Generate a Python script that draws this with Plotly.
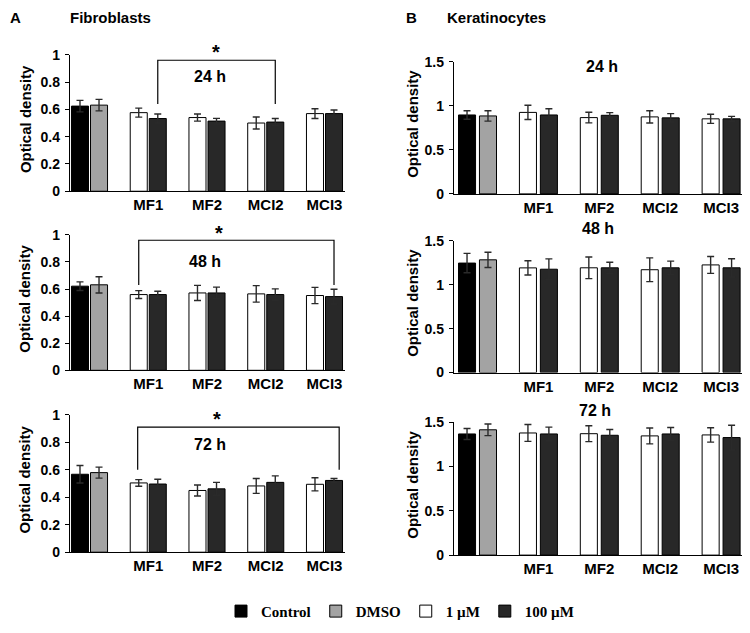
import plotly.graph_objects as go

W, H = 750, 633

categories = ["", "MF1", "MF2", "MCI2", "MCI3"]
timepoints = ["24 h", "48 h", "72 h"]
legend_names = ["Control", "DMSO", "1 \u00b5M", "100 \u00b5M"]

# Fibroblasts (panel A) -- one value per time point for Control / DMSO
fib_ctrl = [0.624, 0.621, 0.567]
fib_ctrl_err = [0.042, 0.032, 0.064]
fib_dmso = [0.631, 0.631, 0.579]
fib_dmso_err = [0.042, 0.060, 0.040]
# 1 uM and 100 uM for MF1, MF2, MCI2, MCI3
fib_1uM_24 = [0.576, 0.540, 0.500, 0.569]
fib_1uM_24_err = [0.033, 0.026, 0.044, 0.036]
fib_100uM_24 = [0.533, 0.514, 0.507, 0.569]
fib_100uM_24_err = [0.033, 0.020, 0.026, 0.026]
fib_1uM_48 = [0.559, 0.571, 0.564, 0.552]
fib_1uM_48_err = [0.029, 0.056, 0.061, 0.060]
fib_100uM_48 = [0.559, 0.571, 0.559, 0.544]
fib_100uM_48_err = [0.024, 0.043, 0.042, 0.054]
fib_1uM_72 = [0.504, 0.449, 0.482, 0.494]
fib_1uM_72_err = [0.024, 0.040, 0.054, 0.048]
fib_100uM_72 = [0.496, 0.461, 0.508, 0.522]
fib_100uM_72_err = [0.035, 0.047, 0.047, 0.014]

# Keratinocytes (panel B)
ker_ctrl = [0.895, 1.248, 1.368]
ker_ctrl_err = [0.048, 0.111, 0.062]
ker_dmso = [0.884, 1.285, 1.415]
ker_dmso_err = [0.059, 0.087, 0.066]
ker_1uM_24 = [0.924, 0.865, 0.873, 0.851]
ker_1uM_24_err = [0.081, 0.060, 0.070, 0.052]
ker_100uM_24 = [0.895, 0.891, 0.862, 0.851]
ker_100uM_24_err = [0.070, 0.030, 0.048, 0.028]
ker_1uM_48 = [1.193, 1.194, 1.172, 1.227]
ker_1uM_48_err = [0.081, 0.123, 0.135, 0.096]
ker_100uM_48 = [1.178, 1.194, 1.194, 1.194]
ker_100uM_48_err = [0.118, 0.063, 0.076, 0.103]
ker_1uM_72 = [1.379, 1.371, 1.346, 1.357]
ker_1uM_72_err = [0.095, 0.090, 0.090, 0.081]
ker_100uM_72 = [1.368, 1.353, 1.368, 1.327]
ker_100uM_72_err = [0.077, 0.066, 0.072, 0.140]

fib_ticks = [0, 0.2, 0.4, 0.6, 0.8, 1]
ker_ticks = [0, 0.5, 1, 1.5]

colors = ["#000000", "#a3a3a3", "#ffffff", "#282828"]
SANS = "Liberation Sans, Arial, sans-serif"
SERIF = "Liberation Serif, Times New Roman, serif"

fig = go.Figure()

# panel geometry in pixels: (x_left, x_right, y_top, y_bottom)
geoms = [
    (70, 345, 48, 188), (70, 345, 232.7, 371.7), (70, 345, 417.3, 558.3),
    (454, 742, 55, 190.7), (454, 742, 239, 374), (454, 742, 425, 561.3),
]
fib_1 = [(fib_1uM_24, fib_1uM_24_err), (fib_1uM_48, fib_1uM_48_err), (fib_1uM_72, fib_1uM_72_err)]
fib_100 = [(fib_100uM_24, fib_100uM_24_err), (fib_100uM_48, fib_100uM_48_err), (fib_100uM_72, fib_100uM_72_err)]
ker_1 = [(ker_1uM_24, ker_1uM_24_err), (ker_1uM_48, ker_1uM_48_err), (ker_1uM_72, ker_1uM_72_err)]
ker_100 = [(ker_100uM_24, ker_100uM_24_err), (ker_100uM_48, ker_100uM_48_err), (ker_100uM_72, ker_100uM_72_err)]

annotations = []
shapes = []
xs_groups = list(range(1, len(categories)))


def px_x(v):
    return v / W


def px_y(v):
    return 1 - v / H


for p in range(6):
    panel_b = p >= 3
    t = p % 3
    n = p + 1
    xa = "x" if n == 1 else f"x{n}"
    ya = "y" if n == 1 else f"y{n}"
    if panel_b:
        ctrl, ctrle, dmso, dmsoe = ker_ctrl[t], ker_ctrl_err[t], ker_dmso[t], ker_dmso_err[t]
        s1, s100 = ker_1[t], ker_100[t]
        half, bw = 0.172, 0.28
    else:
        ctrl, ctrle, dmso, dmsoe = fib_ctrl[t], fib_ctrl_err[t], fib_dmso[t], fib_dmso_err[t]
        s1, s100 = fib_1[t], fib_100[t]
        half, bw = 0.162, 0.29
    series = [
        ([0], [ctrl], [ctrle], -half),
        ([0], [dmso], [dmsoe], half),
        (xs_groups, s1[0], s1[1], -half),
        (xs_groups, s100[0], s100[1], half),
    ]
    for k, (xv, yv, ev, off) in enumerate(series):
        fig.add_trace(go.Bar(
            x=xv, y=yv, xaxis=xa, yaxis=ya, name=legend_names[k],
            width=bw, offset=off - bw / 2,
            marker=dict(color=colors[k], line=dict(color="#000000", width=1)),
            error_y=dict(type="data", array=ev, color="#2a2a2a", thickness=1.4, width=3.5),
            showlegend=(p == 0), legendgroup=legend_names[k], hoverinfo="skip",
        ))

    x0, x1, yt, yb = geoms[p]
    ymax = 1.5 if panel_b else 1.0
    xr = [-0.386, 4.343] if panel_b else [-0.332, 4.349]
    fig.layout[("xaxis" if n == 1 else f"xaxis{n}")] = dict(
        domain=[x0 / W, x1 / W], range=xr, anchor=ya,
        tickmode="array", tickvals=list(range(len(categories))), ticktext=categories,
        showline=True, linecolor="#000000", linewidth=1.3, ticks="", showgrid=False,
        zeroline=False, tickfont=dict(family=SANS, size=15, color="#000000", weight="bold"),
        fixedrange=True,
    )
    fig.layout[("yaxis" if n == 1 else f"yaxis{n}")] = dict(
        domain=[1 - yb / H, 1 - yt / H], range=[0, ymax], anchor=xa,
        tickmode="array", tickvals=ker_ticks if panel_b else fib_ticks,
        showline=True, linecolor="#000000", linewidth=1.3, ticks="outside", ticklen=4,
        tickcolor="#000000", showgrid=False, zeroline=False, ticklabelstandoff=2,
        tickfont=dict(family=SANS, size=14, color="#000000", weight="bold"),
        fixedrange=True,
    )
    # y title
    annotations.append(dict(
        text="Optical density", xref="paper", yref="paper",
        x=px_x(413 if panel_b else 25), y=px_y((yt + yb) / 2 - 4),
        textangle=-90, showarrow=False, xanchor="center", yanchor="middle",
        font=dict(family=SANS, size=15, color="#000000", weight="bold"),
    ))

# time labels (pixel positions)
time_pos = [(210, 70), (205, 260), (210, 448), (601.7, 60), (598, 226.7), (595, 413)]
for p, (tx, ty) in enumerate(time_pos):
    annotations.append(dict(
        text=timepoints[p % 3], x=px_x(tx), y=px_y(ty), xref="paper", yref="paper",
        xanchor="center", yanchor="middle",
        showarrow=False, font=dict(family=SANS, size=16, color="#000000", weight="bold"),
    ))

# significance brackets for fibroblasts (data coords) and asterisks (pixel positions)
brackets = [(1.162, 3.162, 0.96, 0.64), (0.838, 4.162, 0.96, 0.63), (0.82, 4.25, 0.91, 0.60)]
stars = [(216, 45), (219, 231), (217, 422)]
for p, (bx0, bx1, by, bdown) in enumerate(brackets):
    n = p + 1
    xr_ = "x" if n == 1 else f"x{n}"
    yr_ = "y" if n == 1 else f"y{n}"
    shapes.append(dict(type="path", xref=xr_, yref=yr_,
                       path=f"M {bx0},{bdown} L {bx0},{by} L {bx1},{by} L {bx1},{bdown}",
                       line=dict(color="#000000", width=1.2)))
    sx, sy = stars[p]
    annotations.append(dict(text="*", x=px_x(sx), y=px_y(sy), xref="paper", yref="paper",
                            xanchor="center", yanchor="middle", showarrow=False,
                            font=dict(family=SANS, size=20, color="#000000", weight="bold")))

# panel titles
for txt, px in [("A", 8), ("Fibroblasts", 68), ("B", 404), ("Keratinocytes", 445)]:
    annotations.append(dict(text=txt, x=px_x(px), y=px_y(10), xref="paper", yref="paper",
                            xanchor="left", yanchor="middle", showarrow=False,
                            font=dict(family=SANS, size=15, color="#000000", weight="bold")))

fig.update_layout(
    width=W, height=H, margin=dict(l=0, r=0, t=0, b=0),
    paper_bgcolor="#ffffff", plot_bgcolor="#ffffff",
    barmode="overlay", annotations=annotations, shapes=shapes,
    legend=dict(orientation="h", x=400 / W, xanchor="center", y=1 - 619 / H, yanchor="middle",
                font=dict(family=SERIF, size=15, color="#000000", weight="bold"),
                itemclick=False, itemdoubleclick=False),
)

fig.write_html("out.html")
